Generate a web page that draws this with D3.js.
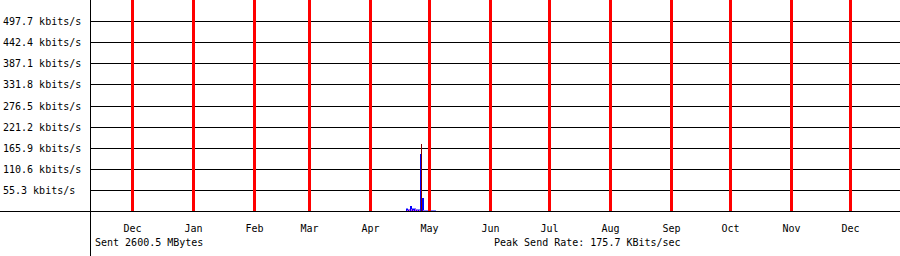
<!DOCTYPE html>
<html>
<head>
<meta charset="utf-8">
<script src="https://cdn.jsdelivr.net/npm/d3@7"></script>
<style>
html,body{margin:0;padding:0;background:#fff;}
svg{display:block;}
text{font-family:"DejaVu Sans Mono","Liberation Mono",monospace;font-size:10px;fill:#000;}
</style>
</head>
<body>
<svg id="chart" width="900" height="256"></svg>
<script>
// ---- data ----
const yTickValues = [55.3, 110.6, 165.9, 221.2, 276.5, 331.8, 387.1, 442.4, 497.7];
const yTickUnit = "kbits/s";
const monthStart = "2010-12-01";
const monthEnd = "2011-12-01";
const dates = ["2011-04-19","2011-04-20","2011-04-21","2011-04-22","2011-04-23","2011-04-24","2011-04-25","2011-04-26","2011-04-27","2011-04-28","2011-04-29","2011-04-30","2011-05-01","2011-05-02","2011-05-03"];
const sendAvg = [5, 3, 14, 4, 6, 3, 2, 149, 34, 0, 0, 0, 0, 0, 0];    // blue
const sendLow = [3, 4, 4, 3, 4, 3, 2, 5, 3, 0, 0, 0, 0, 0, 0];        // magenta
const sendTail = [9, 6, 10, 7, 8, 6, 4, 3, 8, 3, 2, 2, 2, 2, 2];      // light blue
const peakDate = "2011-04-26";
const peakRate = 175.7;
const footerLeft = "Sent 2600.5 MBytes";
const footerRight = "Peak Send Rate: 175.7 KBits/sec";

// ---- layout ----
const W = 900, H = 256;
const axisX = 90, axisY = 211;
const svg = d3.select("#chart");
const parse = d3.timeParse("%Y-%m-%d");
const midDay = d => d3.timeHour.offset(parse(d), 12);

const x = d3.scaleTime()
  .domain([parse(monthStart), parse(monthEnd)])
  .range([132, 850]);
const y = d3.scaleLinear().domain([0, 553]).range([axisY, 0]);

const months = d3.timeMonth.range(parse(monthStart), d3.timeDay.offset(parse(monthEnd), 1));

// horizontal gridlines
svg.append("g").selectAll("line").data(yTickValues).join("line")
  .attr("x1", axisX).attr("x2", W)
  .attr("y1", d => Math.round(y(d)) + 0.5).attr("y2", d => Math.round(y(d)) + 0.5)
  .attr("stroke", "#000").attr("stroke-width", 1).attr("shape-rendering", "crispEdges");

// y labels
svg.append("g").selectAll("text").data(yTickValues).join("text")
  .attr("x", 3).attr("y", d => Math.round(y(d)) + 4)
  .text(d => d.toFixed(1) + " " + yTickUnit);

// data bars
const rows = dates.map((d, i) => ({date: midDay(d), avg: sendAvg[i], low: sendLow[i], tail: sendTail[i]}));
function barX(d) { return Math.round(x(d.date)); }
function barW(d) { return Math.max(1, Math.round(x(d3.timeDay.offset(d.date, 1))) - Math.round(x(d.date))); }

const gData = svg.append("g").attr("shape-rendering", "crispEdges");
gData.selectAll("rect.tail").data(rows).join("rect").attr("class", "tail")
  .attr("x", barX).attr("width", barW)
  .attr("y", d => y(d.tail)).attr("height", d => axisY - y(d.tail))
  .attr("fill", "#8080ff");
gData.selectAll("rect.avg").data(rows).join("rect").attr("class", "avg")
  .attr("x", barX).attr("width", barW)
  .attr("y", d => y(d.avg)).attr("height", d => axisY - y(d.avg))
  .attr("fill", "#0000ff");
gData.selectAll("rect.low").data(rows).join("rect").attr("class", "low")
  .attr("x", d => barX(d) + 1).attr("width", 1)
  .attr("y", d => y(d.low)).attr("height", d => axisY - y(d.low))
  .attr("fill", "#d040e0");
// peak line
const peakX = Math.round(x(midDay(peakDate))) + 1.5;
gData.append("line")
  .attr("x1", peakX).attr("x2", peakX)
  .attr("y1", y(peakRate)).attr("y2", axisY)
  .attr("stroke", "#800000").attr("stroke-width", 1);

// red month lines + labels via axis
const xAxis = d3.axisBottom(x)
  .tickValues(months)
  .tickFormat(d3.timeFormat("%b"))
  .tickSize(0)
  .tickPadding(0);
const gx = svg.append("g").attr("transform", `translate(0,${axisY})`).call(xAxis);
gx.select(".domain").remove();
gx.selectAll(".tick text").attr("y", 21).attr("dy", null)
  .style("font-family", '"DejaVu Sans Mono","Liberation Mono",monospace').style("font-size", "10px").attr("fill", "#000");
gx.selectAll(".tick").attr("transform", d => `translate(${Math.round(x(d)) + 0.5},0)`);
gx.selectAll(".tick line")
  .attr("y1", -axisY).attr("y2", 0)
  .attr("stroke", "#ff0000").attr("stroke-width", 3).attr("shape-rendering", "crispEdges");

// axis lines
svg.append("line").attr("x1", 0).attr("x2", W).attr("y1", axisY + 0.5).attr("y2", axisY + 0.5)
  .attr("stroke", "#000").attr("shape-rendering", "crispEdges");
svg.append("line").attr("x1", axisX + 0.5).attr("x2", axisX + 0.5).attr("y1", 0).attr("y2", H)
  .attr("stroke", "#000").attr("shape-rendering", "crispEdges");

// footer
svg.append("text").attr("x", 95).attr("y", 246).text(footerLeft);
svg.append("text").attr("x", 494).attr("y", 246).text(footerRight);
</script>
</body>
</html>
